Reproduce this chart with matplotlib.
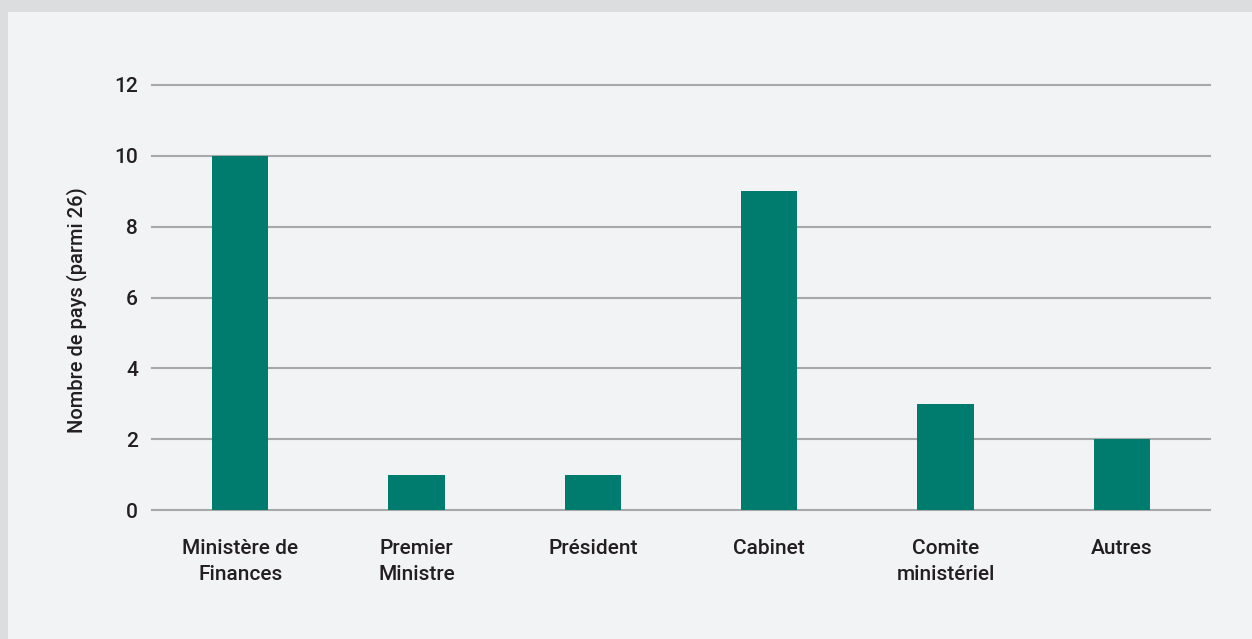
import numpy as np
import matplotlib.pyplot as plt
from matplotlib.patches import Rectangle

# Donnees
categories = ['Ministère de\nFinances', 'Premier\nMinistre', 'Président',
              'Cabinet', 'Comite\nministériel', 'Autres']
valeurs = [10, 1, 1, 9, 3, 2]
yticks = [0, 2, 4, 6, 8, 10, 12]

plt.rcParams['font.family'] = ['Roboto', 'DejaVu Sans']
plt.rcParams['font.weight'] = 'medium'

fig = plt.figure(figsize=(12.52, 6.39), dpi=100)
fig.patch.set_facecolor('#dcdddf')
# panneau interieur
panneau = Rectangle((8/1252, 0), 1, 1 - 12/639, transform=fig.transFigure,
                    facecolor='#f2f3f5', edgecolor='none')
panneau.set_zorder(-10)
fig.add_artist(panneau)

ax = fig.add_axes([152/1252, 1 - 510/639, (1210 - 152)/1252, (510 - 85)/639])
ax.set_zorder(1)
ax.set_facecolor('none')

x = np.arange(len(categories))
ax.bar(x, valeurs, width=0.32, color='#007c6e', zorder=3)

ax.set_xlim(-0.5, len(categories) - 0.5)
ax.set_ylim(0, 12)
ax.set_yticks(yticks)
ax.set_xticks(x)
ax.set_xticklabels(categories, fontsize=15, color='#231f20', linespacing=1.45)
ax.tick_params(axis='y', labelsize=15, labelcolor='#231f20', length=0, pad=10)
ax.tick_params(axis='x', length=0, pad=21)

ax.grid(axis='y', color='#a7a8aa', linewidth=1.5, zorder=1)
for gl in ax.get_ygridlines():
    gl.set_clip_on(False)
for s in ax.spines.values():
    s.set_visible(False)

ax.set_ylabel('Nombre de pays (parmi 26)', fontsize=14.5, color='#231f20',
              fontweight='medium')
ax.yaxis.set_label_coords(-0.061, 0.47)

fig.savefig('out.png', dpi=100, facecolor=fig.get_facecolor())
